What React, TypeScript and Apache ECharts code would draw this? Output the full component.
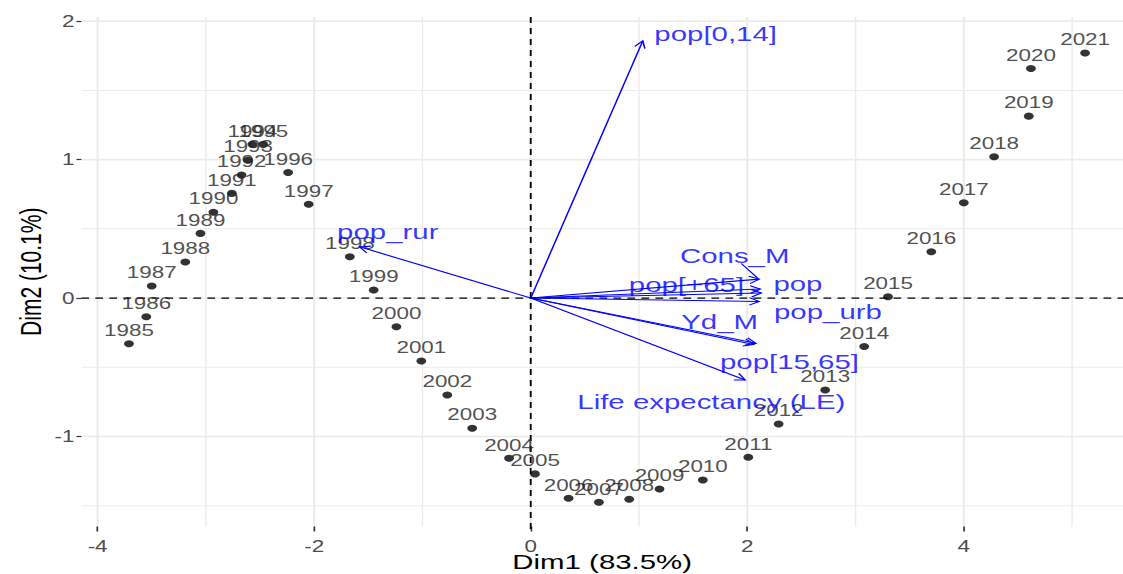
import React, { useEffect, useRef } from "react";
import * as echarts from "echarts";

// ---------- data ----------
const years = [
  "1985","1986","1987","1988","1989","1990","1991","1992","1993","1994","1995","1996","1997",
  "1998","1999","2000","2001","2002","2003","2004","2005","2006","2007","2008","2009","2010",
  "2011","2012","2013","2014","2015","2016","2017","2018","2019","2020","2021",
];
const dim1 = [
  -3.71,-3.55,-3.5,-3.19,-3.05,-2.93,-2.76,-2.67,-2.61,-2.57,-2.47,-2.24,-2.05,
  -1.67,-1.45,-1.24,-1.01,-0.77,-0.54,-0.2,0.04,0.35,0.63,0.91,1.19,1.59,
  2.01,2.29,2.72,3.08,3.3,3.7,4.0,4.28,4.6,4.62,5.12,
];
const dim2 = [
  -0.33,-0.135,0.087,0.26,0.467,0.62,0.756,0.888,0.996,1.11,1.11,0.907,0.677,
  0.298,0.058,-0.207,-0.455,-0.7,-0.94,-1.157,-1.27,-1.446,-1.475,-1.453,-1.379,-1.314,
  -1.15,-0.91,-0.664,-0.35,0.01,0.334,0.688,1.02,1.314,1.658,1.77,
];

const varNames = ["pop[0,14]","pop_rur","Cons_M","pop[+65]","pop","pop_urb","Yd_M","pop[15,65]","Life expectancy (LE)"];
const varTipX = [1.035,-1.58,2.11,2.12,2.13,2.11,2.08,2.06,1.98];
const varTipY = [1.858,0.37,0.137,0.065,0.036,-0.025,-0.327,-0.335,-0.592];
const varLabelX = [1.708,-1.32,1.884,1.438,2.468,2.745,1.745,2.39,1.668];
const varLabelY = [1.913,0.477,0.31,0.094,0.106,-0.099,-0.171,-0.46,-0.749];
// repel segment joining the Cons_M label to its arrow tip
const segFrom = [1.945, 0.25];
const segTo = [2.096, 0.144];

const xTicks = [-4, -2, 0, 2, 4];
const yTicks = [-1, 0, 1, 2];
const xMinor = [-3, -1, 1, 3, 5];
const yMinor = [-1.5, -0.5, 0.5, 1.5];
const xTitle = "Dim1 (83.5%)";
const yTitle = "Dim2 (10.1%)";

// ---------- layout ----------
const W_OUT = 1123;
const H = 574;
const W_IN = 802;
const FONT = "'Liberation Sans', Arial, sans-serif";
const BLUE = "#0000FF";

function gridSeries(values: number[], vertical: boolean, width: number) {
  return {
    type: "custom",
    silent: true,
    z: 0,
    clip: false,
    data: values.map((v) => (vertical ? [v, 0] : [0, v])),
    renderItem: (params: any, api: any) => {
      const cs = params.coordSys;
      const p = api.coord([api.value(0), api.value(1)]);
      const shape = vertical
        ? { x1: p[0], y1: cs.y, x2: p[0], y2: cs.y + cs.height }
        : { x1: cs.x, y1: p[1], x2: cs.x + cs.width, y2: p[1] };
      return { type: "line", shape, style: { stroke: "#EBEBEB", lineWidth: width } };
    },
  };
}

function zeroSeries() {
  return {
    type: "custom",
    silent: true,
    z: 1,
    data: [[0, 0, 0], [0, 0, 1]],
    renderItem: (params: any, api: any) => {
      const cs = params.coordSys;
      const p = api.coord([0, 0]);
      const vertical = api.value(2) === 0;
      const shape = vertical
        ? { x1: p[0], y1: cs.y, x2: p[0], y2: cs.y + cs.height + 4 }
        : { x1: cs.x, y1: p[1], x2: cs.x + cs.width, y2: p[1] };
      return {
        type: "line",
        shape,
        style: { stroke: "#000", lineWidth: 1.3, lineDash: vertical ? [6, 5] : [5.5, 4.5] },
      };
    },
  };
}

export default function App() {
  const ref = useRef<HTMLDivElement>(null);
  useEffect(() => {
    const chart = echarts.init(ref.current!, null, { renderer: "svg" });
    const option: any = {
      animation: false,
      backgroundColor: "#fff",
      textStyle: { fontFamily: FONT },
      grid: { left: 58.1, right: 0, top: 17, bottom: 47.5, containLabel: false, outerBoundsMode: "none" },
      xAxis: {
        type: "value",
        min: -4.15,
        max: 5.47,
        splitLine: { show: false },
        axisLine: { show: false, onZero: false },
        axisTick: { show: true, customValues: xTicks, length: 5, lineStyle: { color: "#333", width: 1.2 } },
        axisLabel: { customValues: xTicks, margin: 12, color: "#4D4D4D", fontSize: 16, fontFamily: FONT },
        name: xTitle,
        nameLocation: "middle",
        nameGap: 25,
        nameMoveOverlap: false,
        nameTextStyle: { fontSize: 21, color: "#000", fontFamily: FONT },
      },
      yAxis: {
        type: "value",
        min: -1.65,
        max: 2.03,
        splitLine: { show: false },
        axisLine: { show: false, onZero: false },
        axisTick: { show: true, customValues: yTicks, length: 3.5, lineStyle: { color: "#333", width: 1.2 } },
        axisLabel: { customValues: yTicks, margin: 5, color: "#4D4D4D", fontSize: 16, fontFamily: FONT },
        name: yTitle,
        nameLocation: "middle",
        nameRotate: 90,
        nameGap: 26,
        nameMoveOverlap: false,
        nameTextStyle: { fontSize: 21, color: "#000", fontFamily: FONT },
      },
      series: [
        gridSeries(xMinor, true, 1),
        gridSeries(yMinor, false, 1),
        gridSeries(xTicks, true, 1.5),
        gridSeries(yTicks, false, 1.6),
        zeroSeries(),
        {
          type: "scatter",
          z: 3,
          symbol: "circle",
          symbolSize: 7,
          itemStyle: { color: "#000" },
          data: years.map((y, i) => ({ name: y, value: [dim1[i], dim2[i]] })),
          label: {
            show: true,
            position: "top",
            distance: 2,
            formatter: (p: any) => p.name,
            color: "#222",
            fontSize: 16,
            fontFamily: FONT,
          },
        },
        {
          type: "custom",
          z: 4,
          silent: true,
          data: varNames.map((n, i) => [varTipX[i], varTipY[i]]),
          renderItem: (params: any, api: any) => {
            const o = api.coord([0, 0]);
            const t = api.coord([api.value(0), api.value(1)]);
            const ang = Math.atan2(t[1] - o[1], t[0] - o[0]);
            const L = 8;
            const a = (28 * Math.PI) / 180;
            const h1 = [t[0] - L * Math.cos(ang - a), t[1] - L * Math.sin(ang - a)];
            const h2 = [t[0] - L * Math.cos(ang + a), t[1] - L * Math.sin(ang + a)];
            const style = { stroke: BLUE, lineWidth: 1.1, fill: null };
            return {
              type: "group",
              children: [
                { type: "line", shape: { x1: o[0], y1: o[1], x2: t[0], y2: t[1] }, style },
                { type: "polyline", shape: { points: [h1, t, h2] }, style },
              ],
            };
          },
        },
        {
          type: "custom",
          z: 4,
          silent: true,
          data: [[segFrom[0], segFrom[1], segTo[0], segTo[1]]],
          renderItem: (params: any, api: any) => {
            const a = api.coord([api.value(0), api.value(1)]);
            const b = api.coord([api.value(2), api.value(3)]);
            return {
              type: "line",
              shape: { x1: a[0], y1: a[1], x2: b[0], y2: b[1] },
              style: { stroke: BLUE, lineWidth: 1 },
            };
          },
        },
        {
          type: "scatter",
          z: 5,
          silent: true,
          symbol: "circle",
          symbolSize: 1,
          itemStyle: { color: "rgba(0,0,0,0)" },
          data: varNames.map((n, i) => ({ name: n, value: [varLabelX[i], varLabelY[i]] })),
          label: {
            show: true,
            position: "inside",
            formatter: (p: any) => p.name,
            color: BLUE,
            fontSize: 21,
            fontFamily: FONT,
          },
        },
      ],
    };
    chart.setOption(option);
    return () => chart.dispose();
  }, []);

  return (
    <div
      style={{
        position: "fixed",
        left: 0,
        top: 0,
        width: W_OUT,
        height: H,
        overflow: "hidden",
        background: "#fff",
      }}
    >
      <div
        ref={ref}
        style={{
          width: W_IN,
          height: H,
          transform: `scaleX(${W_OUT / W_IN})`,
          transformOrigin: "0 0",
        }}
      />
    </div>
  );
}
